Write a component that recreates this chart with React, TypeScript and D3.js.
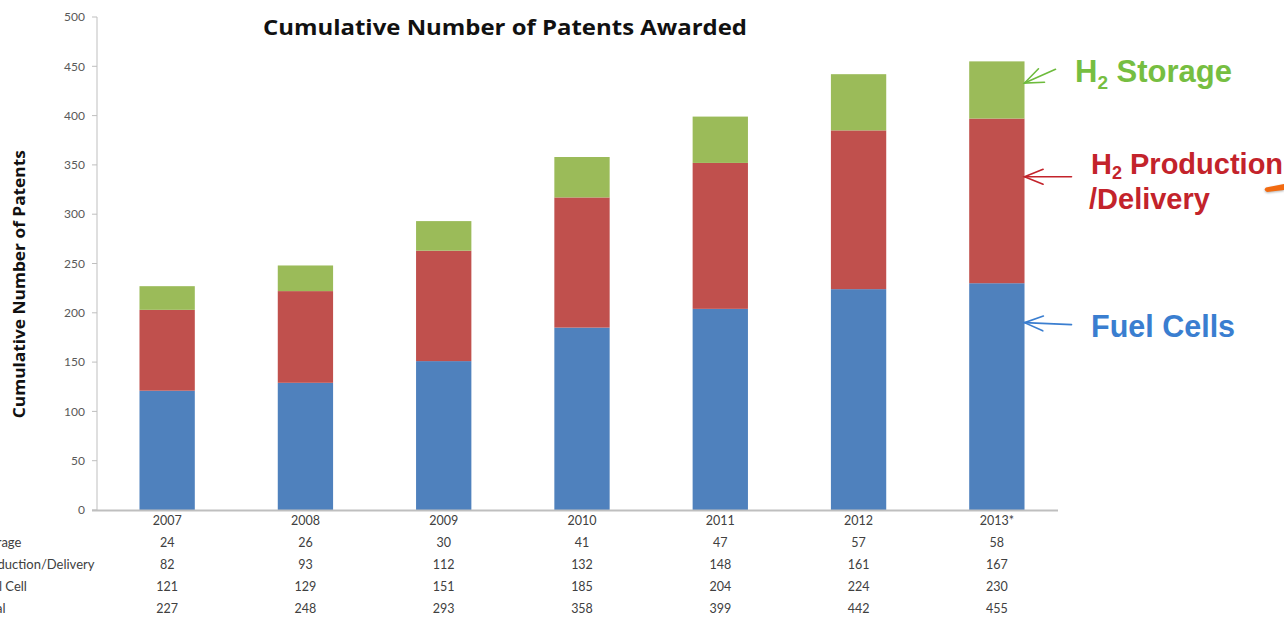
import React from "react";
import * as d3 from "d3";

const years = ["2007", "2008", "2009", "2010", "2011", "2012", "2013*"];
const storage = [24, 26, 30, 41, 47, 57, 58];
const production = [82, 93, 112, 132, 148, 161, 167];
const fuelCell = [121, 129, 151, 185, 204, 224, 230];
const total = [227, 248, 293, 358, 399, 442, 455];
const yTicks = [0, 50, 100, 150, 200, 250, 300, 350, 400, 450, 500];

const seriesKeys = ["fuel", "prod", "stor"];
const seriesColors: Record<string, string> = {
  fuel: "#4F81BD",
  prod: "#C0504D",
  stor: "#9BBB59",
};

const tableRows = [
  { label: "Storage", values: storage },
  { label: "Production/Delivery", values: production },
  { label: "Fuel Cell", values: fuelCell },
  { label: "Total", values: total },
];

// callout anchors, in patent-count units along the y axis
const storageCallout = { from: 447, to: 433 };
const productionCallout = { from: 338, to: 338 };
const fuelCallout = { from: 188, to: 190 };

const W = 1284;
const H = 617;
const chartFont = "Lato, 'Open Sans', sans-serif";
const titleFont = "'Open Sans', Lato, sans-serif";
const calloutFont = "'Liberation Sans', Arial, sans-serif";

export default function App() {
  const x = d3
    .scaleBand<string>()
    .domain(years)
    .range([98, 1066])
    .paddingInner(0.6)
    .paddingOuter(0.3);
  const y = d3.scaleLinear().domain([0, 500]).range([510, 17]);

  const rows = years.map((yr, i) => ({
    year: yr,
    fuel: fuelCell[i],
    prod: production[i],
    stor: storage[i],
  }));
  const stacked = d3.stack<any>().keys(seriesKeys)(rows);

  const cx = (yr: string) => (x(yr) ?? 0) + x.bandwidth() / 2;
  const last = years[years.length - 1];
  const lastRight = (x(last) ?? 0) + x.bandwidth();
  const tail = lastRight + 47;

  const arrow = (x1: number, y1: number, x2: number, y2: number, color: string) => {
    const ang = Math.atan2(y1 - y2, x1 - x2);
    const len = 20;
    const spread = 0.38;
    const a1 = [x2 + len * Math.cos(ang + spread), y2 + len * Math.sin(ang + spread)];
    const a2 = [x2 + len * Math.cos(ang - spread), y2 + len * Math.sin(ang - spread)];
    return (
      <g stroke={color} strokeWidth={1.6} fill="none" strokeLinecap="round">
        <line x1={x1} y1={y1} x2={x2} y2={y2} />
        <polyline points={`${a1[0]},${a1[1]} ${x2},${y2} ${a2[0]},${a2[1]}`} />
      </g>
    );
  };

  return (
    <svg
      width={W}
      height={H}
      style={{ position: "absolute", left: 0, top: 0, background: "#fff" }}
    >
      <rect width={W} height={H} fill="#fff" />
      <text
        x={505}
        y={35}
        textAnchor="middle"
        fontFamily={titleFont}
        fontWeight="bold"
        fontSize={22}
        textLength={484}
        lengthAdjust="spacingAndGlyphs"
        fill="#111"
      >
        Cumulative Number of Patents Awarded
      </text>

      {/* y axis */}
      <line x1={97} y1={y(500)} x2={97} y2={y(0)} stroke="#BFBFBF" strokeWidth={1} />
      {yTicks.map((t) => (
        <g key={t}>
          <line x1={92} x2={97} y1={y(t)} y2={y(t)} stroke="#BFBFBF" strokeWidth={1} />
          <text
            x={85}
            y={y(t)}
            dy="0.35em"
            textAnchor="end"
            fontFamily={chartFont}
            fontSize={12}
            fill="#595959"
          >
            {t}
          </text>
        </g>
      ))}
      <text
        transform={`translate(25, ${y(229)}) rotate(-90)`}
        textAnchor="middle"
        fontFamily={titleFont}
        fontWeight="bold"
        fontSize={16}
        textLength={268}
        lengthAdjust="spacingAndGlyphs"
        fill="#111"
      >
        Cumulative Number of Patents
      </text>

      {/* stacked bars */}
      {stacked.map((layer) => (
        <g key={layer.key} fill={seriesColors[layer.key]}>
          {layer.map((d: any, i: number) => (
            <rect
              key={i}
              x={x(years[i])}
              width={x.bandwidth()}
              y={y(d[1])}
              height={y(d[0]) - y(d[1])}
            />
          ))}
        </g>
      ))}

      {/* x axis */}
      <line x1={92} x2={1058} y1={y(0) + 0.5} y2={y(0) + 0.5} stroke="#BFBFBF" strokeWidth={2} />

      {/* data table */}
      <g fontFamily={chartFont} fontSize={12.5} fill="#404040">
        {years.map((yr) => (
          <text key={yr} x={cx(yr)} y={525} textAnchor="middle">
            {yr}
          </text>
        ))}
        {tableRows.map((row, r) => (
          <g key={row.label}>
            <text x={-22} y={547 + r * 22} fontSize={13}>
              {row.label}
            </text>
            {row.values.map((v, i) => (
              <text key={i} x={cx(years[i])} y={547 + r * 22} textAnchor="middle">
                {v}
              </text>
            ))}
          </g>
        ))}
      </g>

      {/* callouts */}
      {arrow(tail - 16, y(storageCallout.from), lastRight, y(storageCallout.to), "#6DBB3C")}
      {arrow(tail, y(productionCallout.from), lastRight, y(productionCallout.to), "#C3232B")}
      {arrow(tail, y(fuelCallout.from), lastRight, y(fuelCallout.to), "#3A7ED0")}

      <text x={1075} y={82} fontFamily={calloutFont} fontWeight="bold" fontSize={31} fill="#76BE41">
        H<tspan fontSize={19} dy={7}>2</tspan>
        <tspan dy={-7}> Storage</tspan>
      </text>
      <g fontFamily={calloutFont} fontWeight="bold" fontSize={29} fill="#C3232B">
        <text x={1091} y={174}>
          H<tspan fontSize={18} dy={5}>2</tspan>
          <tspan dy={-5}> Production</tspan>
        </text>
        <text x={1089} y={209}>/Delivery</text>
      </g>
      <text x={1091} y={337} fontFamily={calloutFont} fontWeight="bold" fontSize={30.5} fill="#3A7ED0">
        Fuel Cells
      </text>

      {/* orange pointer entering from the right edge */}
      <path
        d="M1266,187.5 Q1263,190 1267,192 L1284,190 L1284,184 Z"
        fill="#F26A10"
        style={{ filter: "drop-shadow(0px 1px 1px rgba(0,0,0,0.3))" }}
      />
    </svg>
  );
}
